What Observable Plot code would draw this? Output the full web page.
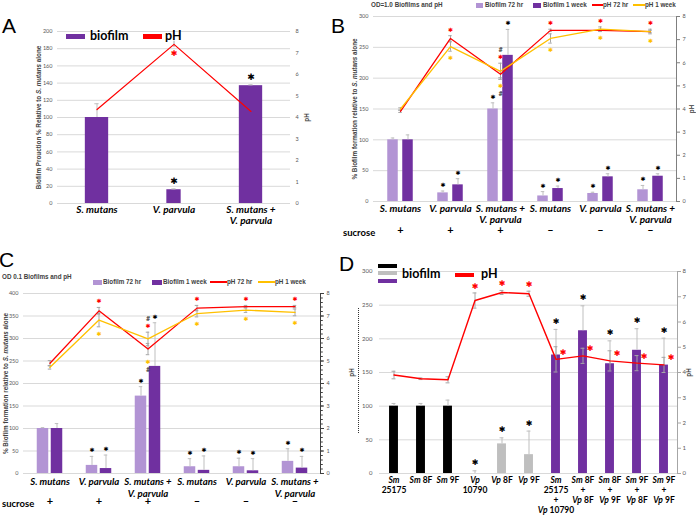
<!DOCTYPE html>
<html>
<head>
<meta charset="utf-8">
<script src="https://cdn.jsdelivr.net/npm/d3@7"></script>
<script src="https://cdn.jsdelivr.net/npm/@observablehq/plot@0.6"></script>
<style>
html,body{margin:0;padding:0;background:#fff;}
#root{position:relative;width:696px;height:517px;overflow:hidden;background:#fff;font-family:Lato,"Liberation Sans",sans-serif;}
.panel{position:absolute;}
.panel svg{display:block;overflow:visible;}
.abs{position:absolute;white-space:nowrap;line-height:1;}
.letter{font-family:"Liberation Sans",Arial,sans-serif;font-size:21px;color:#000;}
.lgtext{font-family:"Liberation Sans",Arial,sans-serif;font-weight:bold;font-size:6.3px;color:#404040;}
.bigleg{font-family:Lato,sans-serif;font-weight:bold;font-size:12.5px;color:#000;}
.suc{font-family:Lato,sans-serif;font-weight:bold;font-size:9.5px;color:#000;}
.panel g[aria-label="y-axis tick label"]{font-size:5.5px;fill:#595959;font-family:Lato,sans-serif;}
.panel g[aria-label="x-axis tick label"]{font-size:10px;font-weight:bold;font-style:italic;fill:#000;font-family:Lato,sans-serif;}
.panel g[aria-label="y-axis label"]{font-size:6.3px;font-weight:bold;fill:#404040;font-family:"Liberation Sans",sans-serif;}
#pC g[aria-label="x-axis tick label"]{font-size:9.6px;}
#pD g[aria-label="x-axis tick label"]{font-size:8.5px;font-style:normal;}
#pD g[aria-label="y-axis tick label"]{font-size:6px;}
</style>
</head>
<body>
<div id="root"></div>
<script>
// ---------------- DATA ----------------
const pHTicks = [0, 1, 2, 3, 4, 5, 6, 7, 8];

// Panel A
const catsA = ["S. mutans", "V. parvula", "S. mutans +\nV. parvula"];
const biofilmA = [100, 16, 137];
const biofilmErrA = [16, 1, 1];
const pHA = [4.37, 7.4, 4.28];
const pHErrA = [0, 0.15, 0];
const sigBiofilmA = [false, true, true];
const sigPHA = [false, true, false];
const yTicksA = [0, 20, 40, 60, 80, 100, 120, 140, 160, 180, 200];

// Panel B (OD = 1.0)
const catsB = ["S. mutans", "V. parvula", "S. mutans +\nV. parvula", "S. mutans", "V. parvula", "S. mutans +\nV. parvula"];
const sucroseB = ["+", "+", "+", "–", "–", "–"];
const biofilm72B = [100, 14, 150, 9, 13, 19];
const biofilm72ErrB = [3, 3, 10, 7, 2, 7];
const biofilm1wB = [100, 27, 237, 21, 40, 41];
const biofilm1wErrB = [8, 10, 42, 4, 5, 4];
const pH72B = [3.9, 7.05, 5.5, 7.4, 7.4, 7.35];
const pH72ErrB = [0.05, 0.12, 0.15, 0.05, 0.05, 0.05];
const pH1wB = [4.0, 6.7, 5.63, 7.05, 7.45, 7.35];
const pH1wErrB = [0.05, 0.2, 0.35, 0.2, 0.1, 0.1];
const sigB = [false, true, true, true, true, true];
const hashB = [false, false, true, false, false, false];
const yTicksB = [0, 50, 100, 150, 200, 250, 300];

// Panel C (OD 0.1)
const catsC = ["S. mutans", "V. parvula", "S. mutans +\nV. parvula", "S. mutans", "V. parvula", "S. mutans +\nV. parvula"];
const sucroseC = ["+", "+", "+", "–", "–", "–"];
const biofilm72C = [100, 18, 172, 15, 15, 27];
const biofilm72ErrC = [2, 20, 21, 18, 19, 28];
const biofilm1wC = [100, 11, 238, 7, 6, 12];
const biofilm1wErrC = [11, 30, 97, 32, 27, 26];
const pH72C = [4.9, 7.23, 5.53, 7.35, 7.42, 7.42];
const pH72ErrC = [0.12, 0.15, 0.25, 0.12, 0.05, 0.05];
const pH1wC = [4.72, 6.82, 5.98, 7.11, 7.26, 7.16];
const pH1wErrC = [0.08, 0.3, 0.3, 0.15, 0.1, 0.15];
const sigC = [false, true, true, true, true, true];
const hashC = [false, false, true, false, false, false];
const yTicksC = [0, 50, 100, 150, 200, 250, 300, 350, 400];

// Panel D (clinical isolates)
const catsD = ["Sm\n25175", "Sm 8F", "Sm 9F", "Vp\n10790", "Vp 8F", "Vp 9F", "Sm\n25175\n+\nVp 10790", "Sm 8F\n+\nVp 8F", "Sm 8F\n+\nVp 9F", "Sm 9F\n+\nVp 8F", "Sm 9F\n+\nVp 9F"];
const groupD = ["Sm", "Sm", "Sm", "Vp", "Vp", "Vp", "Mix", "Mix", "Mix", "Mix", "Mix"];
const biofilmD = [100, 100, 100, 0, 44, 28, 176, 212, 163, 183, 161];
const biofilmErrD = [4, 4, 9, 4, 9, 35, 38, 37, 34, 32, 40];
const pHD = [3.9, 3.75, 3.71, 6.85, 7.17, 7.12, 4.52, 4.66, 4.46, 4.37, 4.3];
const pHErrD = [0.15, 0.03, 0.12, 0.3, 0.08, 0.1, 0.5, 0.3, 0.4, 0.3, 0.3];
const sigBiofilmD = [false, false, false, true, true, true, true, true, true, true, true];
const sigPHD = [false, false, false, true, true, true, true, true, true, true, true];
const yTicksD = [0, 50, 100, 150, 200, 250, 300];

// ---------------- STYLE ----------------
const PURPLE = "#7030a0", LPURPLE = "#b294d4", RED = "#ff0000", ORANGE = "#ffc000";
const ERR = "#bfbfbf", PERR = "#a6a6a6", GRID = "#d9d9d9";
const STAR = () => "✱";
const root = document.getElementById("root");

function addPanel(id, left, top, svg) {
  const d = document.createElement("div");
  d.className = "panel"; d.id = id;
  d.style.left = left + "px"; d.style.top = top + "px";
  d.appendChild(svg); root.appendChild(d);
}
function addText(cls, text, left, cy, size) {
  const s = document.createElement("div");
  s.className = "abs " + cls; s.textContent = text;
  s.style.left = left + "px"; s.style.top = (cy - size / 2) + "px";
  root.appendChild(s);
}
function addBox(left, top, w, h, color, extra) {
  const s = document.createElement("div");
  s.className = "abs";
  Object.assign(s.style, {left: left + "px", top: top + "px", width: w + "px", height: h + "px", background: color}, extra || {});
  root.appendChild(s);
}
function styleRuns(svg, selector, words, style) {
  const re = new RegExp("(" + words.map(w => w.replace(/[.*+?^${}()|[\]\\]/g, "\\$&")).join("|") + ")");
  svg.querySelectorAll(selector).forEach(el => {
    const tsp = Array.from(el.querySelectorAll("tspan"));
    const targets = tsp.length ? tsp : [el];
    for (const t of targets) {
      const s = t.textContent; t.textContent = "";
      for (const part of s.split(re)) {
        if (!part) continue;
        const ts = document.createElementNS("http://www.w3.org/2000/svg", "tspan");
        ts.textContent = part;
        if (words.includes(part)) for (const k in style) ts.style[k] = style[k];
        t.appendChild(ts);
      }
    }
  });
}
const capInsets = (bw, dx, w) => ({insetLeft: bw / 2 + dx - w / 2, insetRight: bw / 2 - dx - w / 2});

// ---------------- PANEL A ----------------
{
  const W = 348, H = 250, ml = 57, mr = 58, mt = 31, mb = 47;
  const k = 200 / 8;
  const bw = (W - ml - mr) / catsA.length;
  const rows = catsA.map((c, i) => ({i, b: biofilmA[i], e: biofilmErrA[i], p: pHA[i], pe: pHErrA[i], sb: sigBiofilmA[i], sp: sigPHA[i]}));
  const wide = 24, narrow = 15;
  const svg = Plot.plot({
    width: W, height: H, marginLeft: ml, marginRight: mr, marginTop: mt, marginBottom: mb,
    style: {background: "transparent"},
    x: {type: "band", domain: d3.range(catsA.length), padding: 0},
    y: {domain: [0, 200]},
    marks: [
      Plot.gridY(yTicksA, {stroke: GRID, strokeOpacity: 1}),
      Plot.barY(rows.filter(d => d.i !== 1), {x: "i", y: "b", fill: PURPLE, insetLeft: (bw - wide) / 2, insetRight: (bw - wide) / 2}),
      Plot.barY(rows.filter(d => d.i === 1), {x: "i", y: "b", fill: PURPLE, insetLeft: (bw - narrow) / 2, insetRight: (bw - narrow) / 2}),
      Plot.ruleX(rows, {x: "i", y1: "b", y2: d => d.b + d.e, stroke: ERR}),
      Plot.tickY(rows, {x: "i", y: d => d.b + d.e, stroke: ERR, ...capInsets(bw, 0, 5)}),
      Plot.ruleX(rows.filter(d => d.pe > 0), {x: "i", y1: d => (d.p - d.pe) * k, y2: d => (d.p + d.pe) * k, stroke: PERR}),
      Plot.line(rows, {x: "i", y: d => d.p * k, stroke: RED, strokeWidth: 1.2}),
      Plot.text(rows.filter(d => d.sb), {x: "i", y: d => d.b + d.e, dy: -8, text: STAR, fill: "black", fontSize: 9, fontFamily: "DejaVu Sans"}),
      Plot.text(rows.filter(d => d.sp), {x: "i", y: d => d.p * k, dy: 9, text: STAR, fill: RED, fontSize: 8, fontFamily: "DejaVu Sans"}),
      Plot.axisY(yTicksA, {tickSize: 0, tickPadding: 5, label: "Biofilm Prouction % Relative to S. mutans alone", labelAnchor: "center", labelOffset: 21, labelArrow: "none"}),
      Plot.axisY(pHTicks, {y: d => d * k, anchor: "right", tickSize: 0, tickPadding: 5, tickFormat: d => String(d), label: "pH", labelAnchor: "center", labelOffset: 18, labelArrow: "none"}),
      Plot.axisX({tickSize: 0, tickPadding: 1, tickFormat: i => catsA[i], label: null, lineHeight: 1.15})
    ]
  });
  styleRuns(svg, 'g[aria-label="y-axis label"] text', ["S. mutans"], {fontStyle: "italic"});
  addPanel("pA", 0, 0, svg);
}

// ---------------- PANELS B & C ----------------
function grouped(o) {
  const n = o.cats.length;
  const bw = (o.W - o.ml - o.mr) / n;
  const off = (o.barW + o.gap) / 2;
  const k = o.yMax / 8;
  const rows = o.cats.map((c, i) => ({i, b72: o.b72[i], e72: o.e72[i], b1w: o.b1w[i], e1w: o.e1w[i],
    p72: o.p72[i], pe72: o.pe72[i], p1w: o.p1w[i], pe1w: o.pe1w[i], sig: o.sig[i], hash: o.hash[i], suc: o.suc[i]}));
  const hi = d => Math.max(d.p72 + d.pe72, d.p1w + d.pe1w) * k;
  const lo = d => Math.min(d.p72 - d.pe72, d.p1w - d.pe1w) * k;
  const sig = rows.filter(d => d.sig), hs = rows.filter(d => d.hash);
  const marks = [
    Plot.gridY(o.yTicks, {stroke: GRID, strokeOpacity: 1}),
    Plot.barY(rows, {x: "i", y: "b72", fill: LPURPLE, insetLeft: bw / 2 - off - o.barW / 2, insetRight: bw / 2 + off - o.barW / 2}),
    Plot.barY(rows, {x: "i", y: "b1w", fill: PURPLE, insetLeft: bw / 2 + off - o.barW / 2, insetRight: bw / 2 - off - o.barW / 2}),
    Plot.ruleX(rows, {x: "i", y1: "b72", y2: d => d.b72 + d.e72, dx: -off, stroke: ERR}),
    Plot.tickY(rows, {x: "i", y: d => d.b72 + d.e72, stroke: ERR, ...capInsets(bw, -off, 4)}),
    Plot.ruleX(rows, {x: "i", y1: "b1w", y2: d => d.b1w + d.e1w, dx: off, stroke: ERR}),
    Plot.tickY(rows, {x: "i", y: d => d.b1w + d.e1w, stroke: ERR, ...capInsets(bw, off, 4)}),
    Plot.ruleX(rows, {x: "i", y1: d => (d.p72 - d.pe72) * k, y2: d => (d.p72 + d.pe72) * k, stroke: PERR}),
    Plot.tickY(rows, {x: "i", y: d => (d.p72 + d.pe72) * k, stroke: PERR, ...capInsets(bw, 0, 4)}),
    Plot.tickY(rows, {x: "i", y: d => (d.p72 - d.pe72) * k, stroke: PERR, ...capInsets(bw, 0, 4)}),
    Plot.ruleX(rows, {x: "i", y1: d => (d.p1w - d.pe1w) * k, y2: d => (d.p1w + d.pe1w) * k, stroke: PERR}),
    Plot.tickY(rows, {x: "i", y: d => (d.p1w + d.pe1w) * k, stroke: PERR, ...capInsets(bw, 0, 4)}),
    Plot.tickY(rows, {x: "i", y: d => (d.p1w - d.pe1w) * k, stroke: PERR, ...capInsets(bw, 0, 4)}),
    Plot.line(rows, {x: "i", y: d => d.p72 * k, stroke: RED, strokeWidth: 1.3}),
    Plot.line(rows, {x: "i", y: d => d.p1w * k, stroke: ORANGE, strokeWidth: 1.3}),
    Plot.text(sig, {x: "i", y: d => d.b72 + d.e72, dx: -off, dy: -6, text: STAR, fill: "black", fontSize: 6, fontFamily: "DejaVu Sans"}),
    Plot.text(sig, {x: "i", y: d => d.b1w + d.e1w, dx: off, dy: -6, text: STAR, fill: "black", fontSize: 6, fontFamily: "DejaVu Sans"}),
    Plot.text(sig, {x: "i", y: hi, dy: -6, text: STAR, fill: RED, fontSize: 6, fontFamily: "DejaVu Sans"}),
    Plot.text(sig, {x: "i", y: lo, dy: 7, text: STAR, fill: ORANGE, fontSize: 6, fontFamily: "DejaVu Sans"}),
    Plot.text(hs, {x: "i", y: hi, dy: -13, text: () => "#", fill: "#404040", fontSize: 6.5, fontWeight: "bold"}),
    Plot.text(hs, {x: "i", y: lo, dy: 15, text: () => "#", fill: "#404040", fontSize: 6.5, fontWeight: "bold"}),
    Plot.axisY(o.yTicks, {tickSize: 0, tickPadding: 5, label: "% Biofilm formation relative to S. mutans alone", labelAnchor: "center", labelOffset: o.lOff, labelArrow: "none"}),
    Plot.frame({anchor: "right", stroke: o.axisColor}),
    Plot.axisY(pHTicks, {y: d => d * k, anchor: "right", tickSize: 3, tickPadding: 3, stroke: o.axisColor, tickFormat: d => String(d), label: o.rLabel, labelAnchor: "center", labelOffset: o.rOff, labelArrow: "none"}),
    Plot.axisX({tickSize: 0, tickPadding: o.padX, tickFormat: i => o.cats[i], label: null, lineHeight: o.lh}),
    Plot.text(rows, {x: "i", text: "suc", frameAnchor: "bottom", dy: o.sucDy, fontSize: 11, fontWeight: "bold", fontFamily: "Lato, sans-serif"})
  ];
  if (o.minor) marks.push(Plot.axisY(o.minor, {y: d => d * k, anchor: "right", tickSize: 1.8, stroke: o.axisColor, tickFormat: () => "", label: null}));
  const svg = Plot.plot({
    width: o.W, height: o.H, marginLeft: o.ml, marginRight: o.mr, marginTop: o.mt, marginBottom: o.mb,
    style: {background: "transparent"},
    x: {type: "band", domain: d3.range(n), padding: 0},
    y: {domain: [0, o.yMax]},
    marks
  });
  styleRuns(svg, 'g[aria-label="y-axis label"] text', ["S. mutans"], {fontStyle: "italic"});
  return svg;
}

addPanel("pB", 348, 0, grouped({
  W: 348, H: 250, ml: 25, mr: 20, mt: 16, mb: 49, barW: 11, gap: 4, yMax: 300, yTicks: yTicksB,
  cats: catsB, suc: sucroseB, b72: biofilm72B, e72: biofilm72ErrB, b1w: biofilm1wB, e1w: biofilm1wErrB,
  p72: pH72B, pe72: pH72ErrB, p1w: pH1wB, pe1w: pH1wErrB, sig: sigB, hash: hashB,
  lOff: 21, rOff: 17, rLabel: "pH", axisColor: "#7f7f7f", padX: 3, lh: 1.1, sucDy: 32, minor: null
}));

addPanel("pC", 0, 250, grouped({
  W: 348, H: 267, ml: 23, mr: 28, mt: 43, mb: 44, barW: 12, gap: 2, yMax: 400, yTicks: yTicksC,
  cats: catsC, suc: sucroseC, b72: biofilm72C, e72: biofilm72ErrC, b1w: biofilm1wC, e1w: biofilm1wErrC,
  p72: pH72C, pe72: pH72ErrC, p1w: pH1wC, pe1w: pH1wErrC, sig: sigC, hash: hashC,
  lOff: 20, rOff: 18, rLabel: null, axisColor: "#404040", padX: 3, lh: 1.25, sucDy: 31,
  minor: d3.range(0, 41).map(j => j / 5)
}));

// ---------------- PANEL D ----------------
{
  const W = 348, H = 267, ml = 31, mr = 19, mt = 21, mb = 44;
  const k = 300 / 8;
  const bw = (W - ml - mr) / catsD.length;
  const barW = 9;
  const rows = catsD.map((c, i) => ({i, g: groupD[i], b: biofilmD[i], e: biofilmErrD[i], p: pHD[i], pe: pHErrD[i], sb: sigBiofilmD[i], sp: sigPHD[i]}));
  const svg = Plot.plot({
    width: W, height: H, marginLeft: ml, marginRight: mr, marginTop: mt, marginBottom: mb,
    style: {background: "transparent"},
    x: {type: "band", domain: d3.range(catsD.length), padding: 0},
    y: {domain: [0, 300]},
    color: {domain: ["Sm", "Vp", "Mix"], range: ["#000000", "#bfbfbf", PURPLE]},
    marks: [
      Plot.gridY(yTicksD, {stroke: GRID, strokeOpacity: 1}),
      Plot.barY(rows, {x: "i", y: "b", fill: "g", insetLeft: (bw - barW) / 2, insetRight: (bw - barW) / 2}),
      Plot.ruleX(rows, {x: "i", y1: "b", y2: d => d.b + d.e, stroke: ERR}),
      Plot.tickY(rows, {x: "i", y: d => d.b + d.e, stroke: ERR, ...capInsets(bw, 0, 4)}),
      Plot.ruleX(rows, {x: "i", y1: d => (d.p - d.pe) * k, y2: d => (d.p + d.pe) * k, stroke: PERR}),
      Plot.tickY(rows, {x: "i", y: d => (d.p + d.pe) * k, stroke: PERR, ...capInsets(bw, 0, 4)}),
      Plot.tickY(rows, {x: "i", y: d => (d.p - d.pe) * k, stroke: PERR, ...capInsets(bw, 0, 4)}),
      Plot.line(rows, {x: "i", y: d => d.p * k, stroke: RED, strokeWidth: 1.4}),
      Plot.text(rows.filter(d => d.sb), {x: "i", y: d => d.b + d.e, dy: -8, text: STAR, fill: "black", fontSize: 8, fontFamily: "DejaVu Sans"}),
      Plot.text(rows.filter(d => d.sp && d.g !== "Mix"), {x: "i", y: d => (d.p + d.pe) * k, dy: -7, text: STAR, fill: RED, fontSize: 8, fontFamily: "DejaVu Sans"}),
      Plot.text(rows.filter(d => d.sp && d.g === "Mix"), {x: "i", y: d => d.p * k, dx: 7, dy: -7, text: STAR, fill: RED, fontSize: 8, fontFamily: "DejaVu Sans"}),
      Plot.axisY(yTicksD, {tickSize: 0, tickPadding: 7, label: "pH", labelAnchor: "center", labelOffset: 30, labelArrow: "none"}),
      Plot.frame({anchor: "right", stroke: "#a6a6a6"}),
      Plot.axisY(pHTicks, {y: d => d * k, anchor: "right", tickSize: 3, tickPadding: 2, stroke: "#a6a6a6", tickFormat: d => String(d), label: "pH", labelAnchor: "center", labelOffset: 13, labelArrow: "none"}),
      Plot.axisX({tickSize: 0, tickPadding: 2, tickFormat: i => catsD[i], label: null, lineHeight: 1.2})
    ]
  });
  styleRuns(svg, 'g[aria-label="x-axis tick label"] text', ["Sm", "Vp"], {fontStyle: "italic"});
  addPanel("pD", 348, 250, svg);
}

// ---------------- ANNOTATIONS / LEGENDS ----------------
addText("letter", "A", 2, 25, 21);
addText("letter", "B", 331, 25, 21);
addText("letter", "C", -1, 259, 21);
addText("letter", "D", 339, 263, 21);

// A legend
addBox(66, 34, 19, 5, PURPLE);
addText("bigleg", "biofilm", 90, 36, 12.5);
addBox(143, 34, 19, 5, RED);
addText("bigleg", "pH", 165, 36, 12.5);

// B title + legend
addText("lgtext", "OD=1.0 Biofilms and pH", 371, 5, 6.3);
addBox(476, 2.5, 7, 5, LPURPLE);
addText("lgtext", "Biofilm 72 hr", 485, 5, 6.3);
addBox(533, 2.5, 8, 5, PURPLE);
addText("lgtext", "Biofilm 1 week", 543, 5, 6.3);
addBox(592, 4.3, 11, 1.5, RED);
addText("lgtext", "pH 72 hr", 603, 5, 6.3);
addBox(633, 4.3, 12, 1.5, ORANGE);
addText("lgtext", "pH 1 week", 645, 5, 6.3);
addText("suc", "sucrose", 343, 233, 9.5);

// C title + legend
addText("lgtext", "OD 0.1 Biofilms and pH", 2, 277, 6.3);
addBox(93, 279.5, 9, 5, LPURPLE);
addText("lgtext", "Biofilm 72 hr", 103, 282, 6.3);
addBox(152, 279.5, 10, 5, PURPLE);
addText("lgtext", "Biofilm 1 week", 163, 282, 6.3);
addBox(210, 281.3, 17, 1.5, RED);
addText("lgtext", "pH 72 hr", 227, 282, 6.3);
addBox(258, 281.3, 17, 1.5, ORANGE);
addText("lgtext", "pH 1 week", 275, 282, 6.3);
addText("suc", "sucrose", 2, 504, 9.5);

// D legend
addBox(378, 264, 19, 4, "#000");
addBox(378, 271, 19, 4, "#bfbfbf");
addBox(378, 279, 19, 4, PURPLE);
addText("bigleg", "biofilm", 402, 274, 12.5);
addBox(455, 273, 19, 4, RED);
addText("bigleg", "pH", 481, 274, 12.5);
addBox(358, 308, 0, 125, "transparent", {borderLeft: "1px dotted #333"});
</script>
</body>
</html>
